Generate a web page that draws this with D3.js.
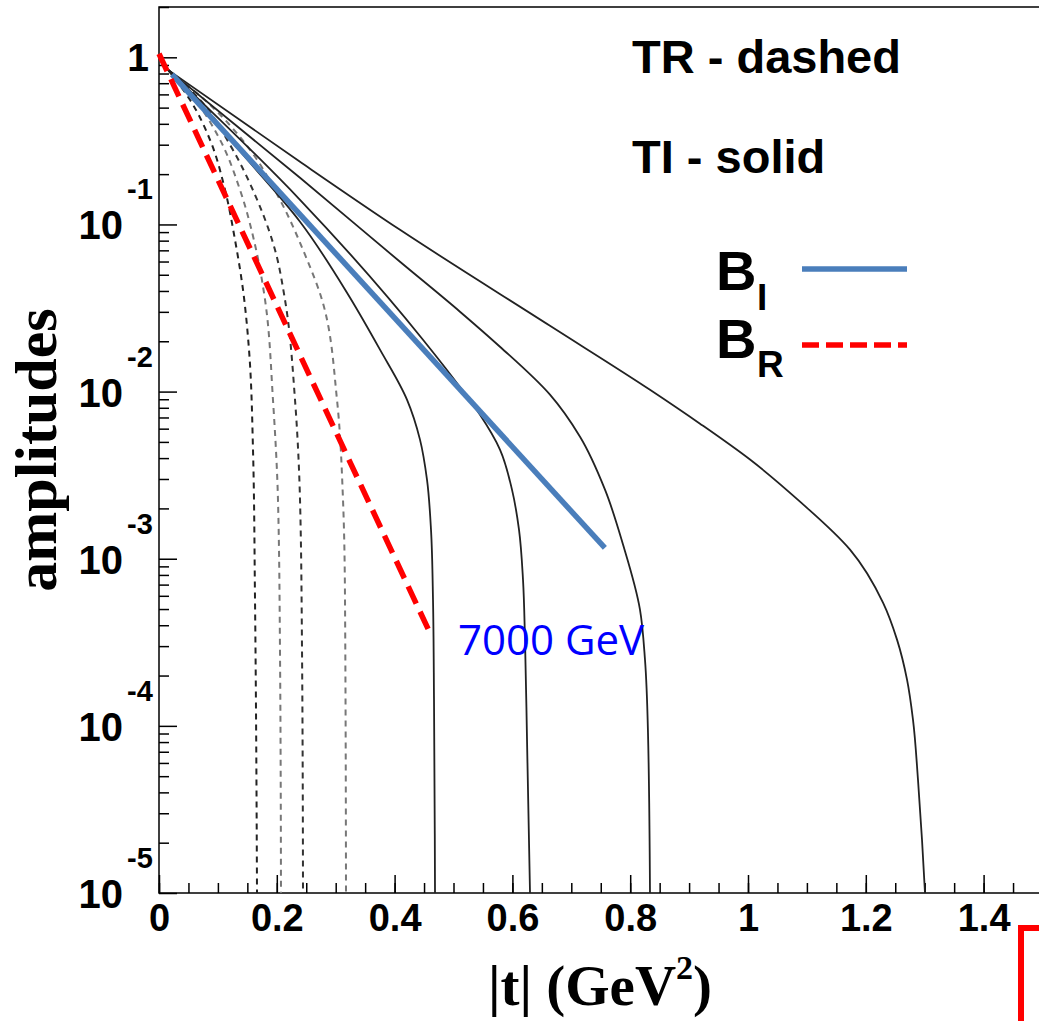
<!DOCTYPE html>
<html>
<head>
<meta charset="utf-8">
<script src="https://cdn.jsdelivr.net/npm/d3@7"></script>
<style>
  body { margin: 0; background: #fff; }
  svg { display: block; }
</style>
</head>
<body>
<div id="chart"></div>
<script>
// |t| (GeV^2) vs amplitude
const tiSolid1 = [[0.0153, 0.842], [0.1545, 0.234], [0.2394, 0.1038], [0.3192, 0.03904], [0.3752, 0.01782], [0.421, 0.00895], [0.4431, 0.00516], [0.455, 0.00297], [0.4618, 0.001493], [0.4652, 5.69e-4], [0.4669, 1.437e-4], [0.4686, 1e-5]];
const tiSolid2 = [[0.0153, 0.842], [0.2394, 0.1405], [0.4482, 0.02044], [0.5144, 0.01026], [0.545, 0.00727], [0.5789, 0.0045], [0.5993, 0.00259], [0.6112, 0.001493], [0.618, 7.5e-4], [0.6214, 3.28e-4], [0.6248, 8.3e-5], [0.6299, 1e-5]];
const tiSolid3 = [[0.0153, 0.842], [0.2394, 0.1902], [0.4092, 0.0598], [0.511, 0.03006], [0.5789, 0.01855], [0.6638, 0.00958], [0.7148, 0.00537], [0.7572, 0.00259], [0.7878, 0.001215], [0.8166, 4.96e-4], [0.8251, 2.49e-4], [0.8302, 9.1e-5], [0.8336, 1e-5]];
const tiSolid4 = [[0.0153, 0.842], [0.2394, 0.2371], [0.4092, 0.0929], [0.6638, 0.02477], [0.8336, 0.01026], [0.9185, 0.00643], [1.0034, 0.00392], [1.0883, 0.002195], [1.1732, 0.001133], [1.2292, 5.46e-4], [1.253, 3.28e-4], [1.27, 1.89e-4], [1.2801, 1.09e-4], [1.2886, 4.77e-5], [1.2954, 2.09e-5], [1.3005, 1e-5]];

const trDashed1 = [[0.0153, 0.842], [0.0526, 0.557], [0.0866, 0.321], [0.1121, 0.1612], [0.129, 0.081], [0.1426, 0.0407], [0.1528, 0.0178], [0.1596, 0.00449], [0.163, 5.69e-4], [0.1664, 1e-5]];
const trDashed2 = [[0.0153, 0.842], [0.0611, 0.557], [0.1036, 0.321], [0.1375, 0.1612], [0.163, 0.0756], [0.18, 0.03545], [0.1935, 0.00894], [0.202, 0.002257], [0.2054, 2.86e-4], [0.2071, 1e-5]];
const trDashed3 = [[0.0153, 0.842], [0.0696, 0.557], [0.1205, 0.2997], [0.163, 0.1505], [0.1969, 0.0706], [0.2139, 0.03545], [0.2309, 0.00894], [0.2394, 0.002257], [0.2428, 2.86e-4], [0.2445, 1e-5]];
const trDashed4 = [[0.0153, 0.842], [0.0866, 0.52], [0.1545, 0.2797], [0.2054, 0.1405], [0.2479, 0.0659], [0.2767, 0.03545], [0.3022, 0.00894], [0.3124, 0.002257], [0.3158, 5.69e-4], [0.3175, 1e-5]];

const slopeBI = [[0.022, 0.79], [0.757, 1.16e-3]];
const slopeBR = [[0, 1.05], [0.46, 3.6e-4]];

const xTickLabels = [0, 0.2, 0.4, 0.6, 0.8, 1, 1.2, 1.4];
const yTickLabels = [1, 1e-1, 1e-2, 1e-3, 1e-4, 1e-5];

const width = 1039;
const height = 1021;

const svg = d3.select("#chart").append("svg")
  .attr("width", width)
  .attr("height", height);

const x = d3.scaleLinear().domain([0, 1.5]).range([159, 1042.5]);
const y = d3.scaleLog().domain([1e-5, 2]).range([893, 7]);

const plot = svg.append("g");

// frame
plot.append("rect")
  .attr("x", x(0))
  .attr("y", y(2))
  .attr("width", x(1.5) - x(0))
  .attr("height", y(1e-5) - y(2))
  .attr("fill", "none")
  .attr("stroke", "#000")
  .attr("stroke-width", 1.5);

// x ticks, pointing up into the frame
const xMinor = plot.append("g")
  .attr("transform", `translate(0,${y(1e-5)})`)
  .call(d3.axisBottom(x).ticks(30).tickSize(-10).tickFormat(""));
const xMajor = plot.append("g")
  .attr("transform", `translate(0,${y(1e-5)})`)
  .call(d3.axisBottom(x).tickValues(xTickLabels).tickSize(-18).tickPadding(11).tickFormat(d3.format("~g")));
[xMinor, xMajor].forEach(g => {
  g.select(".domain").remove();
  g.selectAll("line").attr("stroke", "#000").attr("stroke-width", 1.5);
});
xMajor.selectAll("text")
  .attr("fill", "#000")
  .attr("font-family", "'Liberation Sans', Arial, sans-serif")
  .attr("font-weight", "bold")
  .attr("font-size", 38)
  .attr("dy", "0.71em");

// y ticks, pointing right into the frame
const yMinor = plot.append("g")
  .attr("transform", `translate(${x(0)},0)`)
  .call(d3.axisLeft(y).tickValues(y.ticks().filter(v => yTickLabels.indexOf(v) < 0)).tickSize(-10).tickFormat(""));
const yMajor = plot.append("g")
  .attr("transform", `translate(${x(0)},0)`)
  .call(d3.axisLeft(y).tickValues(yTickLabels).tickSize(-18).tickFormat(""));
[yMinor, yMajor].forEach(g => {
  g.select(".domain").remove();
  g.selectAll("line").attr("stroke", "#000").attr("stroke-width", 1.5);
});

const yLab = plot.append("g")
  .attr("font-family", "'Liberation Sans', Arial, sans-serif")
  .attr("font-weight", "bold")
  .attr("fill", "#000");
yTickLabels.forEach(v => {
  const p = Math.round(Math.log10(v));
  if (p === 0) {
    yLab.append("text").attr("x", 149).attr("y", y(v) + 14)
      .attr("text-anchor", "end").attr("font-size", 39).text("1");
  } else {
    yLab.append("text").attr("x", 123).attr("y", y(v) + 15)
      .attr("text-anchor", "end").attr("font-size", 40).text("10");
    yLab.append("text").attr("x", 127).attr("y", y(v) - 25)
      .attr("font-size", 29).text(String(p));
  }
});

// curves
const line = d3.line()
  .x(d => x(d[0]))
  .y(d => y(d[1]))
  .curve(d3.curveMonotoneY);

const dashed = [trDashed1, trDashed2, trDashed3, trDashed4];
const dashColors = ["#222", "#777", "#333", "#777"];
plot.selectAll(".tr")
  .data(dashed)
  .enter()
  .append("path")
  .attr("class", "tr")
  .attr("d", line)
  .attr("fill", "none")
  .attr("stroke", (d, i) => dashColors[i])
  .attr("stroke-width", 2)
  .attr("stroke-dasharray", "6,5");

const solid = [tiSolid1, tiSolid2, tiSolid3, tiSolid4];
plot.selectAll(".ti")
  .data(solid)
  .enter()
  .append("path")
  .attr("class", "ti")
  .attr("d", line)
  .attr("fill", "none")
  .attr("stroke", "#222")
  .attr("stroke-width", 1.8);

const straight = d3.line().x(d => x(d[0])).y(d => y(d[1]));

plot.append("path")
  .attr("d", straight(slopeBI))
  .attr("fill", "none")
  .attr("stroke", "#4a7ebb")
  .attr("stroke-width", 5.5);

plot.append("path")
  .attr("d", straight(slopeBR))
  .attr("fill", "none")
  .attr("stroke", "#ff0000")
  .attr("stroke-width", 5.5)
  .attr("stroke-dasharray", "19,9");

// annotations
const note = svg.append("g")
  .attr("font-family", "'Liberation Sans', Arial, sans-serif")
  .attr("fill", "#000");
note.append("text").attr("x", 632).attr("y", 73)
  .attr("font-weight", "bold").attr("font-size", 47).text("TR - dashed");
note.append("text").attr("x", 632).attr("y", 173)
  .attr("font-weight", "bold").attr("font-size", 47).text("TI - solid");

note.append("text").attr("x", 716).attr("y", 290)
  .attr("font-weight", "bold").attr("font-size", 56).text("B");
note.append("text").attr("x", 757).attr("y", 310)
  .attr("font-weight", "bold").attr("font-size", 37).text("I");
note.append("text").attr("x", 716).attr("y", 358)
  .attr("font-weight", "bold").attr("font-size", 56).text("B");
note.append("text").attr("x", 757).attr("y", 377)
  .attr("font-weight", "bold").attr("font-size", 37).text("R");

svg.append("line")
  .attr("x1", 802).attr("x2", 907).attr("y1", 269).attr("y2", 269)
  .attr("stroke", "#4a7ebb").attr("stroke-width", 5.5);
svg.append("line")
  .attr("x1", 802).attr("x2", 907).attr("y1", 345).attr("y2", 345)
  .attr("stroke", "#ff0000").attr("stroke-width", 5.5)
  .attr("stroke-dasharray", "17,7");

svg.append("text")
  .attr("x", 458).attr("y", 655)
  .attr("font-family", "'Open Sans', sans-serif")
  .attr("font-size", 42)
  .attr("fill", "#0000ff")
  .text("7000 GeV");

// axis titles
const xTitle = svg.append("text")
  .attr("x", 600).attr("y", 1005)
  .attr("text-anchor", "middle")
  .attr("font-family", "'Liberation Serif', 'Times New Roman', serif")
  .attr("font-weight", "bold")
  .attr("font-size", 57)
  .attr("fill", "#000");
xTitle.append("tspan").text("|t| (GeV");
xTitle.append("tspan").attr("font-size", 34).attr("dy", -26).text("2");
xTitle.append("tspan").attr("dy", 26).text(")");

svg.append("text")
  .attr("transform", "translate(56,450) rotate(-90)")
  .attr("text-anchor", "middle")
  .attr("font-family", "'Liberation Serif', 'Times New Roman', serif")
  .attr("font-weight", "bold")
  .attr("font-size", 60)
  .attr("fill", "#000")
  .text("amplitudes");

// red corner mark at the bottom right
svg.append("path")
  .attr("d", "M1021,1021V928H1039")
  .attr("fill", "none")
  .attr("stroke", "#ff0000")
  .attr("stroke-width", 6);
</script>
</body>
</html>
